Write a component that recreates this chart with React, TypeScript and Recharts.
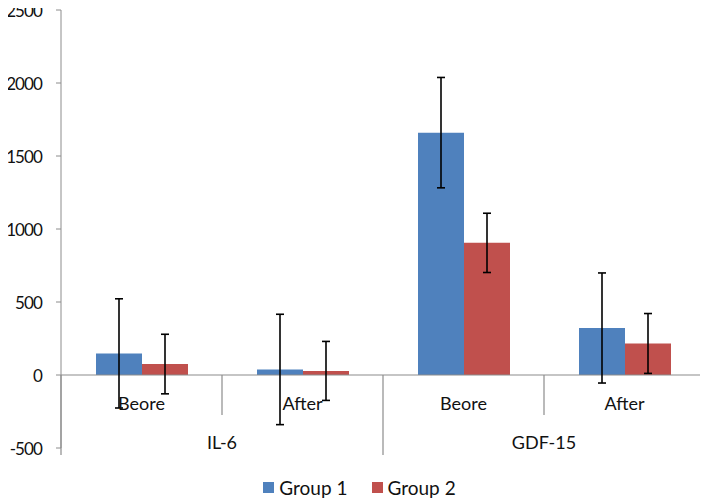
import React from 'react';
import { BarChart, Bar, XAxis, YAxis, ErrorBar, ReferenceLine, Legend } from 'recharts';

// values
const categories = ['Beore', 'After', 'Beore', 'After'];
const groups = ['IL-6', 'IL-6', 'GDF-15', 'GDF-15'];
const group1 = [148, 38, 1660, 322];
const group2 = [75, 28, 905, 216];
const group1Err = [374, 378, 378, 377];
const group2Err = [204, 202, 203, 205];
const yTicks = [-500, 0, 500, 1000, 1500, 2000, 2500];

const data = categories.map((c, i) => ({
  category: c,
  group: groups[i],
  g1: group1[i],
  g2: group2[i],
  e1: group1Err[i],
  e2: group2Err[i],
}));

const W = 708;
const H = 502;
const FONT = 'Lato';
const AXIS = '#8c8c8c';
const BLUE = '#4f81bd';
const RED = '#c0504d';

// plot box (chart coords) used to place the two-level category labels
const PLOT_TOP = 10;
const PLOT_BOTTOM = 448;
const PLOT_LEFT = 61;
const PLOT_RIGHT = 705;
const BAND = (PLOT_RIGHT - PLOT_LEFT) / categories.length;
const ZERO_Y = PLOT_TOP + (2500 / 3000) * (PLOT_BOTTOM - PLOT_TOP);

// digits in Lato run wider than the original's, so squeeze them a little
const ValueTick = (props: any) => {
  const { x, y, payload } = props;
  return (
    <text x={x} y={y} textAnchor="end" dominantBaseline="central" fill="#111" fontSize={17} letterSpacing={-0.9} fontFamily={FONT}>
      {payload.value}
    </text>
  );
};

const CategoryTick = (props: any) => {
  const { x, payload, index } = props;
  const half = BAND / 2;
  const groupStart = index % 2 === 0;
  const last = index === categories.length - 1;
  return (
    <g>
      <line x1={x - half} x2={x - half} y1={ZERO_Y} y2={groupStart ? PLOT_BOTTOM + 7 : ZERO_Y + 40} stroke={AXIS} strokeWidth={1.2} />
      {last && <line x1={x + half} x2={x + half} y1={ZERO_Y} y2={PLOT_BOTTOM + 7} stroke={AXIS} strokeWidth={1.2} />}
      <text x={x} y={ZERO_Y + 28} textAnchor="middle" dominantBaseline="central" fill="#111" fontSize={18} fontFamily={FONT}>
        {payload.value}
      </text>
      {groupStart && (
        <text x={x + half} y={ZERO_Y + 67} textAnchor="middle" dominantBaseline="central" fill="#111" fontSize={18} fontFamily={FONT}>
          {groups[index]}
        </text>
      )}
    </g>
  );
};

const LegendContent = () => (
  <div style={{ display: 'flex', justifyContent: 'center', gap: 24, paddingTop: 4, paddingLeft: 14, fontFamily: FONT, fontSize: 19, color: '#111' }}>
    {[['Group 1', BLUE], ['Group 2', RED]].map(([name, color]) => (
      <div key={name} style={{ display: 'flex', alignItems: 'center', gap: 5 }}>
        <span style={{ width: 11, height: 11, background: color, display: 'inline-block' }} />
        <span>{name}</span>
      </div>
    ))}
  </div>
);

export default function App() {
  return (
    <div style={{ margin: '-8px 0 0 -8px', width: W, height: H }}>
      <BarChart width={W} height={H} data={data} margin={{ top: PLOT_TOP, right: W - PLOT_RIGHT, left: 0, bottom: 0 }} barGap={0} barSize={46}>
        <YAxis
          domain={[-500, 2500]}
          ticks={yTicks}
          width={PLOT_LEFT}
          tickSize={5}
          tickMargin={14}
          stroke={AXIS}
          tick={<ValueTick />}
          allowDataOverflow
        />
        <XAxis dataKey="category" axisLine={false} tickLine={false} height={24} tick={<CategoryTick />} interval={0} />
        <ReferenceLine y={0} stroke={AXIS} strokeWidth={1.2} />
        <Bar dataKey="g1" name="Group 1" fill={BLUE} isAnimationActive={false}>
          <ErrorBar dataKey="e1" width={4} stroke="#000" strokeWidth={1.6} />
        </Bar>
        <Bar dataKey="g2" name="Group 2" fill={RED} isAnimationActive={false}>
          <ErrorBar dataKey="e2" width={4} stroke="#000" strokeWidth={1.6} />
        </Bar>
        <Legend verticalAlign="bottom" height={30} content={<LegendContent />} />
      </BarChart>
    </div>
  );
}
